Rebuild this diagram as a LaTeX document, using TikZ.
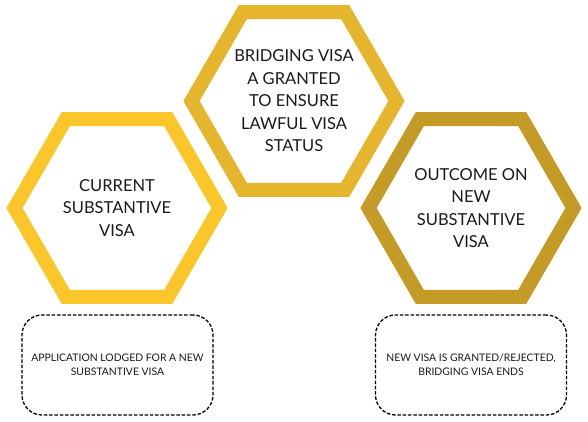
\documentclass[tikz,border=0pt]{standalone}
\usepackage{fontspec}
\setmainfont{Lato}
\usetikzlibrary{shapes.geometric}
\definecolor{hexA}{HTML}{FAC62A}
\definecolor{hexB}{HTML}{E4B52D}
\definecolor{hexC}{HTML}{C39B26}
\definecolor{txt}{HTML}{1A1A1A}
\tikzset{
  hexbox/.style={regular polygon, regular polygon sides=6, minimum size=205pt,
    inner sep=0pt, line width=14pt, line join=miter, align=center,
    text=txt, font=\fontsize{16.5}{22.5}\selectfont},
  notebox/.style={draw=black, dashed, dash pattern=on 3.5pt off 1.8pt, line width=1.3pt,
    rounded corners=20pt, minimum width=191pt, minimum height=100pt,
    align=center, text=txt, font=\fontsize{10.4}{14}\selectfont, inner sep=0pt}
}
\begin{document}
\begin{tikzpicture}[x=1pt,y=-1pt]
\useasboundingbox (0,0) rectangle (588,422);
\fill[white] (0,0) rectangle (588,422);
\node[hexbox, draw=hexA] (cur) at (117,208) {CURRENT\\SUBSTANTIVE\\VISA};
\node[hexbox, draw=hexB] (bri) at (294,101) {BRIDGING VISA\\A GRANTED\\TO ENSURE\\LAWFUL VISA\\STATUS};
\node[hexbox, draw=hexC] (out) at (471,208) {OUTCOME ON\\NEW\\SUBSTANTIVE\\VISA};
\node[notebox] (app) at (117.5,365) {APPLICATION LODGED FOR A NEW\\SUBSTANTIVE VISA};
\node[notebox] (res) at (471,365) {NEW VISA IS GRANTED/REJECTED,\\BRIDGING VISA ENDS};
\end{tikzpicture}
\end{document}
